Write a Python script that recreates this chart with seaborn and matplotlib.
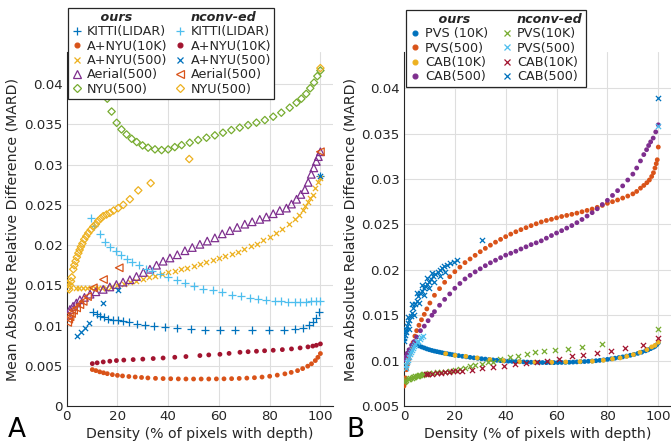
import matplotlib
matplotlib.use("Agg")
import matplotlib.pyplot as plt
from matplotlib.lines import Line2D
import seaborn as sns

# ---------------- panel A data (density %, MARD) ----------------
kitti_ours_x = [10.5, 11.8, 13.1, 14.8, 16.4, 18.3, 20.3, 22.3, 24.6, 27.6, 30.8, 34.5, 38.8, 43.5,
                48.9, 54.4, 60.5, 66.5, 73.1, 79.6, 85.6, 89.9, 93.1, 95.5, 97.1, 98.4, 99.4, 100]
kitti_ours_y = [0.01166, 0.01141, 0.01124, 0.01103, 0.01086, 0.01074, 0.01066, 0.01054, 0.01041,
                0.01024, 0.01012, 0.00995, 0.00983, 0.00966, 0.00954, 0.00945, 0.00941, 0.00941,
                0.00941, 0.00941, 0.00941, 0.00954, 0.00974, 0.01004, 0.01045, 0.01099, 0.01173, 0.0286]

anyu10k_ours_x = [10.1, 11.5, 13, 14.5, 16, 18, 20, 22, 24.5, 27, 29.5, 32, 35, 38, 41, 44, 47, 50,
                  53, 56, 59, 62, 65, 68, 71, 74, 77, 80, 83, 86, 88.5, 91, 93, 95, 96.5, 98, 99, 100]
anyu10k_ours_y = [0.00453, 0.00440, 0.00425, 0.00413, 0.00402, 0.00390, 0.00381, 0.00374, 0.00367,
                  0.00361, 0.00355, 0.00349, 0.00344, 0.00341, 0.00339, 0.00337, 0.00336, 0.00336,
                  0.00336, 0.00336, 0.00337, 0.00338, 0.00340, 0.00343, 0.00347, 0.00352, 0.00360,
                  0.00370, 0.00384, 0.00400, 0.00418, 0.00440, 0.00465, 0.00495, 0.00525, 0.00565,
                  0.00605, 0.00652]

anyu500_ours_x = [3.5, 5, 6.5, 8, 9.5, 11, 12.5, 14, 15.5, 17.5, 20, 22.5, 25, 27.5, 30, 32.5, 35,
                  37.5, 40, 42.5, 45, 47.5, 50, 52.5, 55, 57.5, 60, 62.5, 65, 67.5, 70, 72.5, 75,
                  77.5, 80, 82.5, 85, 87.5, 90, 91.5, 93, 94, 95, 96, 97, 98, 99, 100]
anyu500_ours_y = [0.01465, 0.01465, 0.01465, 0.01465, 0.01465, 0.01465, 0.01465, 0.01466, 0.01470,
                  0.01480, 0.0150, 0.0152, 0.0154, 0.0156, 0.0158, 0.0160, 0.0162, 0.0164, 0.0166,
                  0.0168, 0.0170, 0.0172, 0.0174, 0.01765, 0.0179, 0.01815, 0.0184, 0.01865, 0.0189,
                  0.0192, 0.0195, 0.01985, 0.0202, 0.0206, 0.0210, 0.0215, 0.0220, 0.0226, 0.0232,
                  0.0237, 0.0244, 0.0249, 0.0253, 0.0258, 0.0262, 0.0271, 0.0278, 0.0284]

aerial_ours_x = [0.5, 1.3, 2.5, 3.8, 5.2, 7, 9.2, 11.5, 14.4, 17, 19.6, 22.2, 24.9, 27.5, 30.2,
                 32.8, 35.4, 38, 40.7, 43.6, 46.6, 49.5, 52.5, 55.4, 58.4, 61.3, 64.3, 67.2, 70.2,
                 73.1, 76.1, 78.7, 81.4, 84, 86.6, 88.6, 90.6, 92.3, 93.9, 95.2, 96.4, 97.4, 98.4,
                 99.2, 100]
aerial_ours_y = [0.0113, 0.0120, 0.0124, 0.0128, 0.0132, 0.0135, 0.0139, 0.0142, 0.0145, 0.0148,
                 0.0151, 0.0154, 0.0157, 0.0161, 0.0166, 0.0170, 0.0175, 0.0180, 0.0184, 0.0188,
                 0.0193, 0.0197, 0.0201, 0.0205, 0.0209, 0.0214, 0.0218, 0.0222, 0.0226, 0.0229,
                 0.0232, 0.0235, 0.0239, 0.0243, 0.0246, 0.0251, 0.0257, 0.0263, 0.0269, 0.0278,
                 0.0288, 0.0296, 0.0304, 0.0310, 0.0316]

nyu_ours_x = [13, 14.5, 16, 17.7, 19.7, 21.6, 23.6, 25.6, 27.6, 29.9, 32.1, 34.8, 37.4, 40.0, 42.6,
              45.3, 48.5, 51.8, 55.1, 58.4, 61.6, 64.9, 68.2, 71.5, 74.8, 78.1, 81.4, 84.6, 87.9,
              90.6, 92.5, 94.4, 96, 97.5, 98.8, 100]
nyu_ours_y = [0.0405, 0.0395, 0.0382, 0.0366, 0.0352, 0.03438, 0.03376, 0.03322, 0.03281, 0.03239,
              0.03211, 0.0319, 0.03181, 0.0319, 0.03218, 0.03243, 0.03273, 0.03306, 0.03335,
              0.03364, 0.03397, 0.0343, 0.0346, 0.03492, 0.03522, 0.03554, 0.03596, 0.03646,
              0.03708, 0.0377, 0.0382, 0.0388, 0.0395, 0.0402, 0.0410, 0.0417]

kitti_nc_x = [9.6, 10.9, 13.1, 15.1, 17.0, 19.3, 21.4, 23.6, 25.8, 28.5, 31.1, 33.5, 36.7, 40.0,
              43.3, 46.6, 50.1, 53.8, 57.5, 61.3, 65.2, 68.9, 72.2, 75.4, 78.7, 82.0, 84.6, 87.2,
              89.9, 92.1, 94.5, 96.4, 98.1, 100]
kitti_nc_y = [0.0234, 0.02232, 0.02132, 0.02041, 0.01979, 0.01925, 0.01875, 0.0183, 0.01788,
              0.01747, 0.01705, 0.01676, 0.01635, 0.01601, 0.01564, 0.01523, 0.01489, 0.0146,
              0.01436, 0.01415, 0.01386, 0.01365, 0.01345, 0.01332, 0.01315, 0.01307, 0.01303,
              0.01299, 0.01299, 0.01299, 0.01299, 0.01303, 0.01303, 0.01307]

anyu10k_nc_x = [10.1, 12, 14.4, 17, 19.6, 22.5, 26.2, 30, 34.1, 38, 42.6, 47, 52.5, 56, 60.4, 64,
                68.3, 71.5, 74.8, 78, 81.4, 85, 88.6, 92, 95.1, 97, 98.4, 100]
anyu10k_nc_y = [0.00527, 0.00537, 0.00548, 0.00557, 0.00565, 0.00571, 0.00577, 0.00583, 0.00590,
                0.00597, 0.00606, 0.00615, 0.00627, 0.00635, 0.00643, 0.00654, 0.00668, 0.00675,
                0.00681, 0.00687, 0.00693, 0.00701, 0.00710, 0.00722, 0.00735, 0.00745, 0.00755,
                0.00772]

anyu500_nc_x = [3.9, 5.5, 7.2, 8.9, 14.4, 20.3, 100]
anyu500_nc_y = [0.00876, 0.00917, 0.00971, 0.01029, 0.01283, 0.0144, 0.0286]

aerial_nc_x = [0.4, 0.8, 1.3, 1.9, 2.7, 3.9, 5.2, 6.5, 8.2, 10.5, 14.5, 20.7, 100]
aerial_nc_y = [0.0104, 0.0108, 0.0111, 0.0115, 0.0119, 0.0122, 0.0126, 0.0130, 0.0136, 0.01469,
               0.01572, 0.01718, 0.0316]

nyu_nc_x = [0.3, 0.6, 1.0, 1.3, 1.7, 2.0, 2.6, 3.0, 3.5, 4.0, 4.6, 5.1, 5.6, 6.2, 6.9, 7.7, 8.5,
            9.5, 10.5, 11.5, 12.4, 13.4, 14.4, 15.7, 17.0, 18.5, 20.3, 22.3, 24.9, 28.2, 33.1,
            48.3, 100]
nyu_nc_y = [0.0152, 0.0147, 0.0145, 0.0150, 0.0155, 0.0160, 0.0170, 0.0175, 0.0180, 0.0185,
            0.0190, 0.0194, 0.0198, 0.0202, 0.0207, 0.0211, 0.0215, 0.0219, 0.0223, 0.0226,
            0.0230, 0.0233, 0.0236, 0.0238, 0.0240, 0.0243, 0.0246, 0.0250, 0.0257, 0.0268,
            0.0277, 0.0307, 0.0420]

# ---------------- panel B data ----------------
pvs10k_ours_x = [5, 6, 7, 8, 9, 10, 11, 12, 13, 14, 15, 16, 17, 18, 19, 20, 21.5, 23, 24.5, 26,
                 27.5, 29, 30.5, 32, 33.5, 35, 36.5, 38, 39.5, 41, 42.5, 44, 45.5, 47, 48.5, 50,
                 51.5, 53, 54.5, 56, 57.5, 59, 60.5, 62, 63.5, 65, 66.5, 68, 69.5, 71, 72.5, 74,
                 75.5, 77, 78.5, 80, 81.5, 83, 84.5, 86, 87.5, 89, 90.5, 92, 93.5, 95, 96, 97, 98,
                 98.7, 99.4, 100]
pvs10k_ours_y = [0.01176, 0.01162, 0.0115, 0.0114, 0.01129, 0.0112, 0.01112, 0.01105, 0.01099,
                 0.01093, 0.01087, 0.01081, 0.01076, 0.01071, 0.01066, 0.01061, 0.01055, 0.01048,
                 0.01042, 0.01036, 0.01031, 0.01026, 0.01021, 0.01017, 0.01012, 0.01008, 0.01004,
                 0.0100, 0.00997, 0.00994, 0.00992, 0.0099, 0.00988, 0.00986, 0.00984, 0.00982,
                 0.00981, 0.0098, 0.00979, 0.00978, 0.00978, 0.00978, 0.00979, 0.0098, 0.00981,
                 0.00982, 0.00984, 0.00986, 0.00988, 0.0099, 0.00993, 0.00996, 0.00999, 0.01003,
                 0.01008, 0.01014, 0.0102, 0.01027, 0.01034, 0.01041, 0.0105, 0.01059, 0.01068,
                 0.0108, 0.01093, 0.01108, 0.01119, 0.01132, 0.01146, 0.01157, 0.01175, 0.01195]

pvs500_ours_x = [0, 0.3, 0.6, 1.0, 1.5, 2.0, 2.4, 3.0, 3.6, 4.3, 5.0, 5.9, 6.9, 8.0, 9.0, 10.2,
                 12, 14, 16, 18, 20, 22, 24, 26, 28, 30, 32, 34, 36, 38, 40, 42, 44, 46, 48, 50,
                 52, 54, 56, 58, 60, 62, 64, 66, 68, 70, 72, 74, 76, 78, 80, 82, 84, 86, 88, 90,
                 91.5, 93, 94.3, 95.5, 96.5, 97.4, 98.1, 98.7, 99.2, 99.6, 100]
pvs500_ours_y = [0.0072, 0.0076, 0.0081, 0.0090, 0.0096, 0.0102, 0.0108, 0.0113, 0.0120, 0.0127,
                 0.0133, 0.0139, 0.0145, 0.0151, 0.0157, 0.01635, 0.0172, 0.01793, 0.01863,
                 0.01925, 0.0198, 0.0203, 0.0208, 0.0212, 0.0216, 0.0220, 0.02237, 0.02272,
                 0.02305, 0.02336, 0.02366, 0.02394, 0.0242, 0.02443, 0.02465, 0.02487, 0.02508,
                 0.02528, 0.02544, 0.02557, 0.02573, 0.02588, 0.0260, 0.02612, 0.02625, 0.0264,
                 0.02655, 0.0267, 0.02689, 0.0271, 0.02733, 0.02751, 0.0277, 0.02791, 0.02813,
                 0.02837, 0.02864, 0.0290, 0.0293, 0.0296, 0.0299, 0.03029, 0.0307, 0.03122,
                 0.0317, 0.03213, 0.03353]

cab10k_ours_x = [16.4, 20.1, 24.3, 28.8, 33.8, 39.1, 45.4, 51.5, 58.1, 63.6, 69.2, 74.1, 78.4,
                 82.0, 85.0, 87.6, 90.2, 92.8, 95.5, 97.4, 98.7, 100]
cab10k_ours_y = [0.01077, 0.01058, 0.01047, 0.0103, 0.01012, 0.0100, 0.00989, 0.00983, 0.00981,
                 0.00985, 0.00989, 0.00993, 0.01004, 0.01019, 0.0103, 0.01047, 0.01066, 0.01091,
                 0.01121, 0.01151, 0.01168, 0.01202]

cab500_ours_x = [0, 0.5, 1.2, 2.0, 3.0, 4, 5, 6.5, 8, 9.5, 11, 12, 14, 16, 18, 20, 22, 24, 26, 28,
                 30, 32, 34, 36, 38, 40, 42, 44, 46, 48, 50, 52, 54, 56, 58, 60, 62, 64, 66, 68, 70,
                 72, 74, 76, 78, 80, 82, 84, 86, 88, 90, 91.5, 93, 94.3, 95.4, 96.2, 97, 98, 99, 100]
cab500_ours_y = [0.0101, 0.0104, 0.0108, 0.0112, 0.0117, 0.0121, 0.0126, 0.0133, 0.0138, 0.0144,
                 0.0150, 0.0154, 0.0161, 0.01675, 0.01735, 0.01797, 0.0185, 0.0190, 0.0194,
                 0.01978, 0.02012, 0.02046, 0.02078, 0.02106, 0.02134, 0.02162, 0.02183, 0.02205,
                 0.0223, 0.02254, 0.02278, 0.02298, 0.0232, 0.02349, 0.02378, 0.02406, 0.02432,
                 0.0246, 0.02488, 0.0252, 0.02555, 0.02593, 0.0263, 0.02673, 0.0272, 0.02766,
                 0.0282, 0.02873, 0.02925, 0.0299, 0.03055, 0.03122, 0.0320, 0.0327, 0.03324,
                 0.0337, 0.0341, 0.03452, 0.0352, 0.03598]

pvs10k_nc_x = [0, 0.5, 1, 1.5, 2, 2.5, 3, 3.5, 4, 4.5, 5, 5.5, 6, 6.5, 7, 7.5, 8, 9, 10, 11.5, 13,
               14.5, 16, 18, 20, 22, 24, 26, 28, 30.5, 33, 35, 37.7, 41.7, 44.9, 48.2, 51.5, 55.0,
               59.4, 64.6, 69.9, 77.7, 100]
pvs10k_nc_y = [0.0077, 0.0078, 0.0079, 0.0080, 0.0080, 0.0081, 0.0081, 0.0082, 0.0082, 0.0083,
               0.0083, 0.0083, 0.0084, 0.0084, 0.0084, 0.0085, 0.0085, 0.0085, 0.0086, 0.0086,
               0.0087, 0.0087, 0.0088, 0.0089, 0.0090, 0.0091, 0.0092, 0.0094, 0.0095, 0.00963,
               0.0098, 0.0099, 0.01022, 0.01036, 0.01055, 0.01074, 0.01091, 0.01102, 0.01113,
               0.01129, 0.01151, 0.01184, 0.01349]

pvs500_nc_x = [0.8, 1.0, 1.3, 1.6, 2.0, 2.3, 2.7, 3.0, 3.5, 4.0, 4.5, 5.0, 5.6, 6.2, 6.9, 7.6, 100]
pvs500_nc_y = [0.0092, 0.0095, 0.0098, 0.0101, 0.0104, 0.0107, 0.0110, 0.0112, 0.0114, 0.0116,
               0.0118, 0.0120, 0.0122, 0.0124, 0.0126, 0.01275, 0.0358]

cab10k_nc_x = [8.5, 9.6, 11, 12.9, 14.5, 16.1, 17.8, 19.4, 21, 22.7, 26.6, 30.5, 34.9, 39.3, 43.6,
               48.0, 52.2, 56.4, 61.1, 66.0, 70.5, 75.8, 81.3, 87.0, 93.8, 100]
cab10k_nc_y = [0.0085, 0.00853, 0.00858, 0.00863, 0.00868, 0.00874, 0.00877, 0.00881, 0.00885,
               0.00888, 0.00899, 0.00918, 0.00929, 0.00943, 0.00965, 0.00972, 0.00981, 0.0100,
               0.01022, 0.01047, 0.01066, 0.01085, 0.0111, 0.0114, 0.01176, 0.0125]

# the CAB(500) band is thick: centre line plus its two visible edges
cab500_nc_x = [0, 0.2, 0.4, 0.7, 1.0, 1.3, 1.7, 2.1, 2.6, 3.1, 3.7, 4.3, 5.0, 5.6, 6.3, 7.0, 7.7,
               8.3, 9.0, 9.8, 10.6, 11.5, 12.3, 13.2, 14.0, 14.8, 15.8, 16.8, 18.1, 19.5, 21.0,
               0.5, 1.5, 3, 5, 7, 9, 11, 2, 4, 6, 8, 10, 12, 14, 16,
               30.8, 100]
cab500_nc_y = [0.0122, 0.0125, 0.0128, 0.0131, 0.0135, 0.0138, 0.01415, 0.0145, 0.0149, 0.0153,
               0.0158, 0.0162, 0.0166, 0.01708, 0.0174, 0.0177, 0.0180, 0.01818, 0.0184, 0.0187,
               0.0190, 0.01928, 0.0195, 0.0198, 0.0200, 0.0202, 0.0204, 0.0205, 0.02076, 0.0209,
               0.02112,
               0.0133, 0.0148, 0.0162, 0.0174, 0.0183, 0.0191, 0.0197,
               0.0135, 0.0150, 0.0163, 0.0172, 0.0180, 0.0187, 0.0193, 0.0198,
               0.02332, 0.0389]

x_ticks = [0, 20, 40, 60, 80, 100]
a_y_ticks = [0, 0.005, 0.01, 0.015, 0.02, 0.025, 0.03, 0.035, 0.04]
a_y_labels = ["0", "0.005", "0.01", "0.015", "0.02", "0.025", "0.03", "0.035", "0.04"]
b_y_ticks = [0.005, 0.01, 0.015, 0.02, 0.025, 0.03, 0.035, 0.04]
b_y_labels = ["0.005", "0.01", "0.015", "0.02", "0.025", "0.03", "0.035", "0.04"]

a_ours_labels = ["KITTI(LIDAR)", "A+NYU(10K)", "A+NYU(500)", "Aerial(500)", "NYU(500)"]
a_nc_labels = ["KITTI(LIDAR)", "A+NYU(10K)", "A+NYU(500)", "Aerial(500)", "NYU(500)"]
b_ours_labels = ["PVS (10K)", "PVS(500)", "CAB(10K)", "CAB(500)"]
b_nc_labels = ["PVS(10K)", "PVS(500)", "CAB(10K)", "CAB(500)"]

# MATLAB default colour order
BLUE, ORANGE, YELLOW = "#0072BD", "#D95319", "#EDB120"
PURPLE, GREEN, LBLUE, DRED = "#7E2F8E", "#77AC30", "#4DBEEE", "#A2142F"
INK = "#262626"

# marker styles: (marker, scatter size, open?)
STYLE = {
    "+": ("+", 30, False),
    "x": ("x", 14, False),
    ".": ("o", 12, False),
    "^": ("^", 30, True),
    "<": ("<", 30, True),
    "D": ("D", 14, True),
}

sns.set_style("white")
plt.rcParams["font.family"] = ["DejaVu Sans"]


def draw(ax, xs, ys, color, kind):
    marker, size, hollow = STYLE[kind]
    kw = dict(marker=marker, s=size, color=color, ax=ax, legend=False, zorder=3)
    if hollow:
        kw.update(facecolor="none", edgecolor=color, linewidth=0.9)
    elif marker == "o":
        kw.update(edgecolor="none", linewidth=0)
    else:
        kw.update(linewidth=0.9)
    sns.scatterplot(x=xs, y=ys, **kw)


def handle(color, kind):
    marker, size, hollow = STYLE[kind]
    return Line2D([], [], linestyle="None", marker=marker, markersize=size ** 0.5,
                  color=color, markerfacecolor="none" if hollow else color,
                  markeredgewidth=0.9)


def style_axes(ax, yticks, ylabels, ylim):
    ax.set_xlim(0, 105)
    ax.set_ylim(*ylim)
    ax.set_xticks(x_ticks)
    ax.set_xticklabels([str(t) for t in x_ticks])
    ax.set_yticks(yticks)
    ax.set_yticklabels(ylabels)
    ax.grid(True, color="#dedede", linewidth=0.8)
    ax.set_axisbelow(True)
    for side in ("top", "right"):
        ax.spines[side].set_visible(False)
    for side in ("left", "bottom"):
        ax.spines[side].set_color(INK)
        ax.spines[side].set_linewidth(0.8)
    ax.tick_params(direction="in", length=3, width=0.8, color=INK, labelcolor=INK,
                   labelsize=9.6, pad=3)
    ax.set_xlabel("Density (% of pixels with depth)", fontsize=10.2, color=INK, labelpad=3)
    ax.set_ylabel("Mean Absolute Relative Difference (MARD)", fontsize=10.2, color=INK,
                  labelpad=3)


def add_legend(fig, ours, nconv, ours_labels, nc_labels, anchor, colspace):
    blank = Line2D([], [], linestyle="None")
    handles = [blank] + ours + [blank] + nconv
    labels = ["   ours"] + ours_labels + ["nconv-ed"] + nc_labels
    leg = fig.legend(handles, labels, loc="upper left", bbox_to_anchor=anchor,
                     bbox_transform=fig.transFigure, ncol=2, fontsize=9.2, frameon=True,
                     fancybox=False, framealpha=1, borderpad=0.25, labelspacing=0.1,
                     handlelength=0.9, handletextpad=0.35, columnspacing=colspace,
                     borderaxespad=0)
    frame = leg.get_frame()
    frame.set_edgecolor(INK)
    frame.set_linewidth(0.9)
    for t in leg.get_texts():
        if t.get_text().strip() in ("ours", "nconv-ed"):
            t.set_fontweight("bold")
            t.set_fontstyle("italic")
    return leg


fig = plt.figure(figsize=(6.71, 4.45), dpi=100)
ax_a = fig.add_axes([0.0994, 0.0876, 0.397, 0.7955])
ax_b = fig.add_axes([0.602, 0.0876, 0.398, 0.7955])

# panel A
draw(ax_a, kitti_ours_x, kitti_ours_y, BLUE, "+")
draw(ax_a, anyu10k_ours_x, anyu10k_ours_y, ORANGE, ".")
draw(ax_a, anyu500_ours_x, anyu500_ours_y, YELLOW, "x")
draw(ax_a, aerial_ours_x, aerial_ours_y, PURPLE, "^")
draw(ax_a, nyu_ours_x, nyu_ours_y, GREEN, "D")
draw(ax_a, kitti_nc_x, kitti_nc_y, LBLUE, "+")
draw(ax_a, anyu10k_nc_x, anyu10k_nc_y, DRED, ".")
draw(ax_a, anyu500_nc_x, anyu500_nc_y, BLUE, "x")
draw(ax_a, aerial_nc_x, aerial_nc_y, ORANGE, "<")
draw(ax_a, nyu_nc_x, nyu_nc_y, YELLOW, "D")
style_axes(ax_a, a_y_ticks, a_y_labels, (0, 0.044))

# panel B
draw(ax_b, pvs10k_ours_x, pvs10k_ours_y, BLUE, ".")
draw(ax_b, pvs500_ours_x, pvs500_ours_y, ORANGE, ".")
draw(ax_b, cab10k_ours_x, cab10k_ours_y, YELLOW, ".")
draw(ax_b, cab500_ours_x, cab500_ours_y, PURPLE, ".")
draw(ax_b, pvs10k_nc_x, pvs10k_nc_y, GREEN, "x")
draw(ax_b, pvs500_nc_x, pvs500_nc_y, LBLUE, "x")
draw(ax_b, cab10k_nc_x, cab10k_nc_y, DRED, "x")
draw(ax_b, cab500_nc_x, cab500_nc_y, BLUE, "x")
style_axes(ax_b, b_y_ticks, b_y_labels, (0.005, 0.044))

add_legend(fig,
           [handle(BLUE, "+"), handle(ORANGE, "."), handle(YELLOW, "x"),
            handle(PURPLE, "^"), handle(GREEN, "D")],
           [handle(LBLUE, "+"), handle(DRED, "."), handle(BLUE, "x"),
            handle(ORANGE, "<"), handle(YELLOW, "D")],
           a_ours_labels, a_nc_labels, (68 / 671, 1 - 8 / 445), 0.55)
add_legend(fig,
           [handle(BLUE, "."), handle(ORANGE, "."), handle(YELLOW, "."), handle(PURPLE, ".")],
           [handle(GREEN, "x"), handle(LBLUE, "x"), handle(DRED, "x"), handle(BLUE, "x")],
           b_ours_labels, b_nc_labels, (406 / 671, 1 - 10 / 445), 1.0)

fig.text(8 / 671, 2 / 445, "A", fontsize=19, color="black", va="bottom")
fig.text(346 / 671, 2 / 445, "B", fontsize=19, color="black", va="bottom")

fig.savefig("out.png", dpi=100)
